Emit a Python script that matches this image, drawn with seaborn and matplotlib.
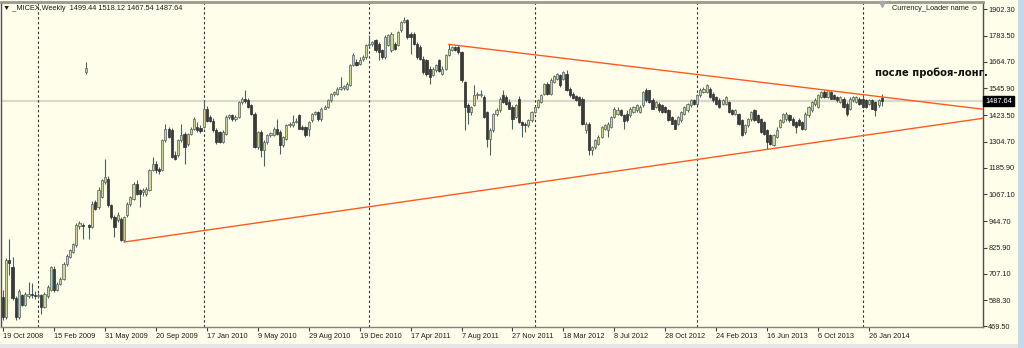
import matplotlib
matplotlib.use("Agg")
import matplotlib.pyplot as plt
import matplotlib.transforms as mtransforms
from matplotlib.patches import Rectangle
import seaborn as sns
import numpy as np

# ---------------- data (weekly MICEX candles) ----------------
opens = [
    603, 512, 770, 740, 598, 512, 612, 565, 608, 615,
    610, 605, 610, 557, 605, 633, 730, 635, 663, 685,
    753, 785, 805, 836, 922, 930, 1620, 927, 919, 1032,
    1010, 1054, 1122, 1137, 1017, 964, 950, 957, 859, 972,
    1024, 1047, 1115, 1085, 1075, 1070, 1085, 1175, 1205, 1180,
    1175, 1310, 1363, 1355, 1243, 1243, 1310, 1340, 1295, 1340,
    1363, 1371, 1368, 1371, 1453, 1415, 1400, 1355, 1348, 1303,
    1340, 1416, 1423, 1408, 1416, 1484, 1495, 1491, 1469, 1431,
    1280, 1348, 1265, 1303, 1335, 1333, 1363, 1348, 1288, 1318,
    1378, 1378, 1393, 1424, 1370, 1370, 1363, 1401, 1431, 1438,
    1408, 1454, 1461, 1491, 1518, 1521, 1544, 1548, 1544, 1559,
    1649, 1664, 1655, 1679, 1687, 1740, 1745, 1762, 1747, 1717,
    1687, 1740, 1717, 1747, 1740, 1808, 1845, 1852, 1792, 1792,
    1747, 1732, 1679, 1672, 1634, 1604, 1627, 1672, 1612, 1634,
    1694, 1717, 1732, 1732, 1710, 1574, 1469, 1439, 1469, 1514,
    1514, 1506, 1438, 1318, 1356, 1431, 1446, 1514, 1506, 1484,
    1461, 1416, 1499, 1393, 1386, 1378, 1401, 1438, 1461, 1484,
    1521, 1566, 1521, 1574, 1589, 1604, 1589, 1612, 1544, 1521,
    1510, 1506, 1499, 1356, 1386, 1265, 1280, 1295, 1326, 1363,
    1355, 1371, 1416, 1431, 1446, 1424, 1431, 1424, 1439, 1446,
    1439, 1469, 1536, 1536, 1491, 1461, 1476, 1469, 1461, 1446,
    1416, 1401, 1386, 1401, 1431, 1446, 1469, 1491, 1476, 1514,
    1530, 1529, 1544, 1521, 1506, 1491, 1476, 1476, 1484, 1446,
    1431, 1431, 1401, 1348, 1378, 1408, 1446, 1424, 1408, 1393,
    1356, 1333, 1288, 1326, 1371, 1393, 1408, 1424, 1408, 1393,
    1401, 1393, 1363, 1424, 1446, 1476, 1461, 1506, 1529, 1506,
    1529, 1514, 1506, 1484, 1499, 1476, 1454, 1491, 1484, 1499,
    1499, 1491, 1476, 1491, 1484, 1469, 1499.44,
]
highs = [
    633, 780, 866, 784, 605, 640, 618, 625, 670, 668,
    630, 622, 615, 625, 655, 745, 745, 670, 695, 760,
    795, 820, 848, 935, 945, 935, 1664, 932, 1035, 1040,
    1100, 1135, 1225, 1150, 1025, 975, 985, 965, 970, 1030,
    1060, 1120, 1130, 1090, 1095, 1100, 1180, 1235, 1215, 1190,
    1315, 1386, 1370, 1365, 1260, 1315, 1386, 1350, 1345, 1370,
    1415, 1395, 1380, 1491, 1465, 1425, 1410, 1365, 1352, 1355,
    1425, 1430, 1430, 1425, 1490, 1505, 1539, 1500, 1475, 1440,
    1352, 1355, 1310, 1340, 1350, 1370, 1408, 1355, 1330, 1385,
    1395, 1424, 1410, 1430, 1380, 1375, 1400, 1435, 1445, 1445,
    1460, 1470, 1495, 1525, 1535, 1550, 1597, 1560, 1575, 1655,
    1705, 1680, 1685, 1695, 1745, 1785, 1760, 1770, 1755, 1725,
    1785, 1790, 1800, 1755, 1805, 1850, 1868, 1860, 1800, 1800,
    1755, 1740, 1690, 1680, 1645, 1640, 1655, 1680, 1645, 1700,
    1744, 1735, 1738, 1740, 1715, 1580, 1480, 1465, 1559, 1530,
    1540, 1515, 1445, 1365, 1435, 1455, 1505, 1537, 1515, 1495,
    1470, 1475, 1510, 1400, 1395, 1405, 1442, 1465, 1495, 1520,
    1570, 1572, 1590, 1605, 1615, 1610, 1625, 1627, 1550, 1530,
    1515, 1512, 1505, 1395, 1392, 1285, 1315, 1335, 1375, 1385,
    1395, 1420, 1460, 1460, 1452, 1430, 1446, 1460, 1465, 1475,
    1470, 1535, 1545, 1540, 1500, 1490, 1482, 1475, 1465, 1450,
    1420, 1405, 1420, 1442, 1465, 1480, 1495, 1496, 1518, 1545,
    1550, 1563, 1552, 1528, 1512, 1500, 1495, 1510, 1490, 1452,
    1450, 1436, 1408, 1385, 1412, 1445, 1452, 1430, 1412, 1398,
    1362, 1338, 1340, 1370, 1405, 1435, 1440, 1430, 1415, 1398,
    1410, 1398, 1440, 1465, 1490, 1500, 1518, 1535, 1540, 1540,
    1535, 1520, 1512, 1510, 1505, 1482, 1505, 1510, 1512, 1506,
    1505, 1498, 1495, 1497, 1490, 1497, 1518.12,
]
lows = [
    497, 505, 700, 590, 497, 505, 560, 560, 600, 600,
    595, 598, 527, 552, 600, 628, 625, 628, 655, 680,
    745, 778, 800, 830, 910, 866, 1612, 866, 915, 995,
    1000, 1050, 1115, 1010, 955, 874, 940, 855, 851, 965,
    1015, 1040, 1065, 1009, 1060, 1060, 1080, 1170, 1165, 1160,
    1170, 1305, 1320, 1230, 1220, 1235, 1305, 1205, 1285, 1335,
    1358, 1350, 1345, 1365, 1395, 1395, 1350, 1295, 1300, 1298,
    1333, 1405, 1400, 1400, 1410, 1475, 1480, 1455, 1425, 1275,
    1270, 1235, 1195, 1295, 1325, 1328, 1335, 1250, 1280, 1310,
    1370, 1372, 1388, 1360, 1355, 1325, 1330, 1395, 1425, 1400,
    1400, 1450, 1455, 1485, 1510, 1515, 1538, 1540, 1540, 1555,
    1645, 1645, 1650, 1670, 1680, 1730, 1735, 1710, 1672, 1680,
    1680, 1735, 1710, 1720, 1735, 1800, 1840, 1770, 1702, 1740,
    1680, 1675, 1612, 1600, 1567, 1600, 1620, 1620, 1605, 1630,
    1690, 1712, 1715, 1700, 1575, 1356, 1386, 1425, 1465, 1495,
    1505, 1410, 1280, 1243, 1350, 1420, 1440, 1478, 1470, 1450,
    1363, 1410, 1390, 1326, 1350, 1370, 1395, 1432, 1455, 1478,
    1515, 1515, 1515, 1568, 1583, 1552, 1583, 1535, 1505, 1495,
    1490, 1465, 1380, 1345, 1243, 1243, 1270, 1290, 1320, 1355,
    1325, 1365, 1410, 1425, 1420, 1360, 1395, 1418, 1435, 1440,
    1432, 1462, 1485, 1480, 1450, 1455, 1440, 1435, 1435, 1400,
    1385, 1360, 1380, 1395, 1425, 1440, 1462, 1470, 1470, 1508,
    1525, 1525, 1500, 1485, 1470, 1455, 1470, 1470, 1432, 1425,
    1425, 1380, 1330, 1340, 1372, 1400, 1400, 1390, 1345, 1335,
    1273, 1288, 1283, 1320, 1365, 1388, 1400, 1395, 1375, 1345,
    1375, 1355, 1358, 1418, 1440, 1465, 1455, 1500, 1500, 1500,
    1495, 1495, 1485, 1478, 1455, 1420, 1448, 1485, 1478, 1470,
    1455, 1455, 1470, 1450, 1420, 1462, 1467.54,
]
closes = [
    512, 768, 755, 598, 512, 630, 568, 615, 618, 610,
    607, 612, 557, 618, 648, 738, 635, 663, 685, 753,
    790, 813, 843, 927, 935, 922, 1635, 920, 1024, 1002,
    1085, 1130, 1145, 1017, 964, 920, 972, 860, 964, 1024,
    1054, 1115, 1070, 1070, 1085, 1092, 1175, 1205, 1175, 1170,
    1310, 1363, 1325, 1235, 1228, 1310, 1333, 1280, 1340, 1363,
    1408, 1355, 1352, 1453, 1400, 1400, 1355, 1303, 1303, 1348,
    1416, 1423, 1408, 1415, 1484, 1499, 1490, 1461, 1431, 1280,
    1348, 1265, 1303, 1333, 1342, 1363, 1340, 1288, 1325, 1378,
    1386, 1393, 1400, 1363, 1363, 1335, 1393, 1431, 1440, 1408,
    1454, 1461, 1491, 1521, 1528, 1544, 1550, 1555, 1567, 1649,
    1694, 1649, 1675, 1687, 1740, 1747, 1755, 1717, 1710, 1687,
    1777, 1785, 1792, 1725, 1800, 1845, 1852, 1777, 1777, 1747,
    1687, 1680, 1619, 1612, 1597, 1634, 1649, 1625, 1634, 1694,
    1724, 1732, 1717, 1710, 1582, 1461, 1439, 1461, 1514, 1521,
    1518, 1416, 1318, 1356, 1431, 1446, 1499, 1484, 1476, 1454,
    1408, 1469, 1393, 1378, 1378, 1401, 1438, 1461, 1491, 1514,
    1566, 1521, 1582, 1600, 1612, 1559, 1619, 1540, 1514, 1500,
    1492, 1469, 1386, 1386, 1265, 1280, 1310, 1326, 1371, 1378,
    1386, 1416, 1454, 1446, 1424, 1400, 1401, 1454, 1461, 1469,
    1461, 1529, 1491, 1484, 1454, 1484, 1446, 1439, 1440, 1401,
    1386, 1363, 1416, 1438, 1461, 1476, 1491, 1476, 1514, 1539,
    1544, 1559, 1506, 1491, 1476, 1461, 1491, 1506, 1438, 1431,
    1446, 1386, 1333, 1378, 1408, 1438, 1401, 1393, 1348, 1340,
    1303, 1295, 1333, 1356, 1401, 1431, 1431, 1401, 1378, 1371,
    1378, 1363, 1431, 1461, 1484, 1491, 1514, 1529, 1506, 1536,
    1499, 1499, 1491, 1506, 1461, 1431, 1499, 1506, 1506, 1476,
    1461, 1461, 1491, 1454, 1446, 1491, 1487.64,
]

x_tick_labels = ["19 Oct 2008", "15 Feb 2009", "31 May 2009", "20 Sep 2009",
                 "17 Jan 2010", "9 May 2010", "29 Aug 2010", "19 Dec 2010",
                 "17 Apr 2011", "7 Aug 2011", "27 Nov 2011", "18 Mar 2012",
                 "8 Jul 2012", "28 Oct 2012", "24 Feb 2013", "16 Jun 2013",
                 "6 Oct 2013", "26 Jan 2014"]
x_tick_bars = [0, 16, 32, 48, 64, 80, 96, 112, 128, 144, 160, 176, 192, 208,
               224, 240, 256, 272]
y_ticks = [469.50, 588.30, 707.10, 825.90, 944.70, 1067.10, 1185.90, 1304.70,
           1423.50, 1545.90, 1664.70, 1783.50, 1902.30]
year_separator_bars = [11, 63, 115, 167, 218, 270]

upper_trend_bars = [140, 307.8]
upper_trend_prices = [1744, 1451]
lower_trend_bars = [38, 307.8]
lower_trend_prices = [851, 1410]

bid_price = 1487.64
header_text = "\u25BC _MICEX,Weekly  1499.44 1518.12 1467.54 1487.64"
indicator_text = "Currency_Loader name \u263A"
note_text = "после пробоя-лонг."

# ---------------- style ----------------
sns.set_theme(style="white")
plt.rcParams["font.family"] = ["Liberation Sans", "DejaVu Sans"]

BG = "#FFFEEA"
fig = plt.figure(figsize=(10.24, 3.48), dpi=100, facecolor=BG)
ax = fig.add_axes([0.001, 1 - 327 / 348, 982 / 1024, 325 / 348])
ax.set_facecolor(BG)

n = len(closes)
xs = np.arange(n)
o = np.array(opens, dtype=float)
c = np.array(closes, dtype=float)
h = np.array(highs, dtype=float)
l = np.array(lows, dtype=float)

# bid line and period separators
ax.axhline(bid_price, color="#D8D8CC", lw=1.6, zorder=1)
for b in year_separator_bars:
    ax.axvline(b, color="#333333", lw=0.8, ls=(0, (2.2, 2.2)), zorder=1)

# candles
wick_col = "#4C6262"
ax.vlines(xs, l, h, color=wick_col, lw=0.8, zorder=2)
bull = c >= o
bottoms = np.minimum(o, c)
heights = np.maximum(np.abs(c - o), 3.0)
ax.bar(xs[bull], heights[bull], bottom=bottoms[bull], width=0.68,
       color="#D2D29C", edgecolor=wick_col, linewidth=0.5, zorder=3)
ax.bar(xs[~bull], heights[~bull], bottom=bottoms[~bull], width=0.68,
       color="#3A3A3A", edgecolor="#2E2E2E", linewidth=0.5, zorder=3)

# trend lines
tl_col = "#FF5A24"
sns.lineplot(x=upper_trend_bars, y=upper_trend_prices, ax=ax, color=tl_col,
             lw=1.0, estimator=None, zorder=4)
sns.lineplot(x=lower_trend_bars, y=lower_trend_prices, ax=ax, color=tl_col,
             lw=1.0, estimator=None, zorder=4)

ax.set_xlim(-0.63, 307.8)
ax.set_ylim(467.2, 1935.3)

# axes / ticks
ax.yaxis.tick_right()
ax.set_yticks(y_ticks)
ax.set_yticklabels([f"{v:.2f}" for v in y_ticks])
ax.set_xticks(x_tick_bars)
ax.set_xticklabels(x_tick_labels)
for t in ax.get_xticklabels():
    t.set_horizontalalignment("left")
ax.tick_params(axis="both", direction="out", length=2.6, width=0.8,
               color="#404040", labelsize=5.3, labelcolor="#1E1E1E", pad=1.2)
ax.tick_params(axis="y", right=True, left=False, labelright=True, labelleft=False)
ax.tick_params(axis="x", bottom=True, pad=2.0)
ax.set_xlabel("")
ax.set_ylabel("")

for side, col, lw in [("top", "#9A9A90", 2.0), ("left", "#505050", 1.0),
                      ("bottom", "#808080", 1.0), ("right", "#505050", 1.0)]:
    ax.spines[side].set_color(col)
    ax.spines[side].set_linewidth(lw)
    ax.spines[side].set_visible(True)

# price tag on the axis
trans = mtransforms.blended_transform_factory(ax.transAxes, ax.transData)
ax.text(1.002, bid_price, f"{bid_price:.2f}", transform=trans, color="white",
        fontsize=5.3, va="center", ha="left", zorder=6, clip_on=False,
        bbox=dict(boxstyle="square,pad=0.25", facecolor="black", edgecolor="black"))

# texts
fig.text(3 / 1024, 1 - 9 / 348, header_text, fontsize=5.3, color="#1E1E1E",
         va="center", ha="left")
fig.text(978 / 1024, 1 - 9 / 348, indicator_text, fontsize=5.3, color="#1E1E1E",
         va="center", ha="right", family=["Liberation Sans", "DejaVu Sans"])
fig.text(875 / 1024, 1 - 73 / 348, note_text, fontsize=7.2, color="#111111",
         fontweight="bold", va="center", ha="left", family=["DejaVu Sans"])

# chart-shift marker
ax.plot([276], [1927], marker="v", color="#A8A8A8", ms=4, clip_on=False, zorder=5)

# window decorations
fig.patches.append(Rectangle((0, 0), 1, 4 / 348, transform=fig.transFigure,
                             facecolor="#E6E6E6", edgecolor="none", zorder=0))
fig.patches.append(Rectangle((1018 / 1024, 0), 6 / 1024, 1, transform=fig.transFigure,
                             facecolor="#C4D8EE", edgecolor="none", zorder=0))

fig.savefig("out.png", dpi=100, facecolor=BG)
